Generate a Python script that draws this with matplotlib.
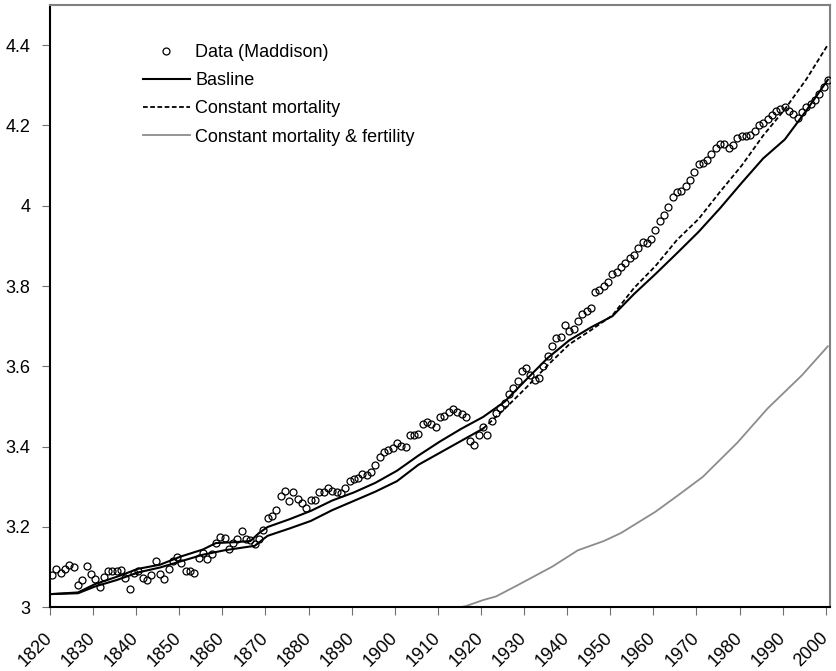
import numpy as np
import matplotlib
matplotlib.use("Agg")
import matplotlib.pyplot as plt
from matplotlib.lines import Line2D

plt.rcParams['font.family'] = ['Liberation Sans', 'DejaVu Sans']

# Maddison data, one value per year 1820..2000
data_years = list(range(1820, 2001))
data_values = [
    3.080, 3.096, 3.086, 3.095, 3.105, 3.101, 3.056, 3.069, 3.103, 3.083,  # 1820s
    3.070, 3.051, 3.075, 3.091, 3.090, 3.091, 3.093, 3.074, 3.046, 3.086,  # 1830s
    3.091, 3.072, 3.067, 3.081, 3.115, 3.084, 3.071, 3.095, 3.116, 3.126,  # 1840s
    3.111, 3.091, 3.090, 3.085, 3.122, 3.134, 3.121, 3.132, 3.161, 3.174,  # 1850s
    3.173, 3.144, 3.159, 3.169, 3.189, 3.169, 3.168, 3.158, 3.171, 3.193,  # 1860s
    3.222, 3.227, 3.243, 3.277, 3.289, 3.264, 3.287, 3.269, 3.260, 3.248,  # 1870s
    3.268, 3.268, 3.286, 3.287, 3.297, 3.290, 3.286, 3.285, 3.296, 3.315,  # 1880s
    3.320, 3.323, 3.331, 3.330, 3.338, 3.354, 3.375, 3.387, 3.392, 3.396,  # 1890s
    3.410, 3.402, 3.398, 3.428, 3.429, 3.431, 3.456, 3.462, 3.457, 3.449,  # 1900s
    3.475, 3.477, 3.487, 3.493, 3.487, 3.482, 3.474, 3.413, 3.404, 3.428,  # 1910s
    3.448, 3.428, 3.464, 3.483, 3.496, 3.510, 3.532, 3.546, 3.564, 3.589,  # 1920s
    3.595, 3.578, 3.566, 3.571, 3.601, 3.627, 3.650, 3.670, 3.673, 3.702,  # 1930s
    3.687, 3.692, 3.714, 3.730, 3.737, 3.745, 3.786, 3.790, 3.801, 3.811,  # 1940s
    3.830, 3.836, 3.847, 3.857, 3.871, 3.878, 3.894, 3.911, 3.908, 3.918,  # 1950s
    3.940, 3.963, 3.977, 3.997, 4.023, 4.034, 4.038, 4.050, 4.064, 4.083,  # 1960s
    4.105, 4.107, 4.115, 4.130, 4.143, 4.153, 4.154, 4.145, 4.152, 4.168,  # 1970s
    4.174, 4.174, 4.177, 4.186, 4.200, 4.207, 4.216, 4.227, 4.236, 4.242,  # 1980s
    4.245, 4.235, 4.228, 4.219, 4.234, 4.247, 4.254, 4.264, 4.279, 4.295,  # 1990s
    4.314,
]

# model runs
base_years = [1820, 1826, 1830, 1835, 1840, 1845, 1850, 1855, 1858, 1862, 1866, 1868,
              1870, 1875, 1880, 1885, 1890, 1895, 1900, 1905, 1910, 1915, 1920, 1925,
              1930, 1935, 1940, 1945, 1950, 1955, 1960, 1965, 1970, 1975, 1980, 1985,
              1990, 1995, 2000]
base_values = [3.033, 3.037, 3.058, 3.076, 3.096, 3.106, 3.127, 3.144, 3.160, 3.162, 3.165, 3.185,
               3.200, 3.219, 3.240, 3.266, 3.286, 3.310, 3.340, 3.378, 3.413, 3.445, 3.474, 3.512,
               3.567, 3.621, 3.665, 3.697, 3.725, 3.780, 3.830, 3.882, 3.935, 3.994, 4.057, 4.118,
               4.165, 4.237, 4.314]

cm_years = [1820, 1826, 1830, 1835, 1840, 1845, 1850, 1855, 1860, 1865, 1867, 1869,
            1870, 1875, 1880, 1885, 1890, 1895, 1900, 1905, 1910, 1915, 1920, 1925,
            1930, 1935, 1940, 1945, 1950, 1955, 1960, 1965, 1970, 1975, 1980, 1985,
            1990, 1995, 2000]
cm_values = [3.033, 3.035, 3.052, 3.068, 3.087, 3.099, 3.115, 3.131, 3.142, 3.150, 3.153, 3.170,
             3.178, 3.196, 3.215, 3.242, 3.265, 3.288, 3.314, 3.355, 3.385, 3.415, 3.445, 3.494,
             3.547, 3.603, 3.655, 3.690, 3.727, 3.795, 3.850, 3.915, 3.967, 4.035, 4.100, 4.175,
             4.240, 4.315, 4.401]

cmf_years = [1913, 1916, 1920, 1923, 1928, 1932, 1936, 1942, 1948, 1952, 1960, 1965,
             1971, 1979, 1986, 1994, 2000]
cmf_values = [2.997, 3.003, 3.018, 3.027, 3.055, 3.078, 3.101, 3.142, 3.165, 3.185, 3.238, 3.277,
              3.325, 3.410, 3.495, 3.578, 3.650]

legend_labels = ["Data (Maddison)", "Basline", "Constant mortality",
                 "Constant mortality & fertility"]

fig = plt.figure(figsize=(8.37, 6.71), dpi=100)
ax = fig.add_axes([50 / 837, 1 - 607.3 / 671, 780 / 837, 602.3 / 671])

ax.plot(data_years, data_values, linestyle="none", marker="o", ms=5.0,
        mfc="none", mec="black", mew=0.9, zorder=4)
ax.plot(base_years, base_values, color="black", lw=1.5, zorder=3)

# the flat early part of the dashed run prints as a solid line in the original
cm_years = np.array(cm_years)
cm_values = np.array(cm_values)
early = cm_years <= 1922
late = cm_years >= 1920
ax.plot(cm_years[early], cm_values[early], color="black", lw=1.5, zorder=3)
ax.plot(cm_years[late], cm_values[late], color="black", lw=1.3,
        linestyle=(0, (2.6, 1.4)), zorder=3)
ax.plot(cmf_years, cmf_values, color="#8c8c8c", lw=1.3, zorder=2)

ax.set_xlim(1819.5, 2000.5)
ax.set_ylim(3, 4.5)
ax.set_yticks(np.arange(3.0, 4.41, 0.2))
ax.set_yticklabels(["{:g}".format(round(v, 1)) for v in np.arange(3.0, 4.41, 0.2)])
xt = np.arange(1820, 2001, 10)
ax.set_xticks(xt - 0.5)
ax.set_xticklabels([str(t) for t in xt])

ax.tick_params(axis="both", direction="out", length=6, width=0.8, color="#707070",
               labelsize=13)
ax.tick_params(axis="y", pad=8)
ax.tick_params(axis="x", pad=14)
plt.setp(ax.get_xticklabels(), rotation=45, ha="right", va="center",
         rotation_mode="anchor")

for side in ["left", "bottom"]:
    ax.spines[side].set_color("black")
    ax.spines[side].set_linewidth(1.5)
for side in ["top", "right"]:
    ax.spines[side].set_color("#808080")
    ax.spines[side].set_linewidth(1.5)

handles = [
    Line2D([], [], linestyle="none", marker="o", ms=5.0, mfc="none", mec="black", mew=0.9),
    Line2D([], [], color="black", lw=1.5),
    Line2D([], [], color="black", lw=1.3, linestyle=(0, (2.6, 1.4))),
    Line2D([], [], color="#8c8c8c", lw=1.3),
]
fig.legend(handles, legend_labels, loc="upper left", bbox_to_anchor=(143 / 837, 1 - 44 / 671),
           bbox_transform=fig.transFigure, frameon=False, fontsize=13, borderpad=0,
           borderaxespad=0, handlelength=2.6, handletextpad=0.3, labelspacing=0.62)

fig.savefig("out.png", dpi=100)
